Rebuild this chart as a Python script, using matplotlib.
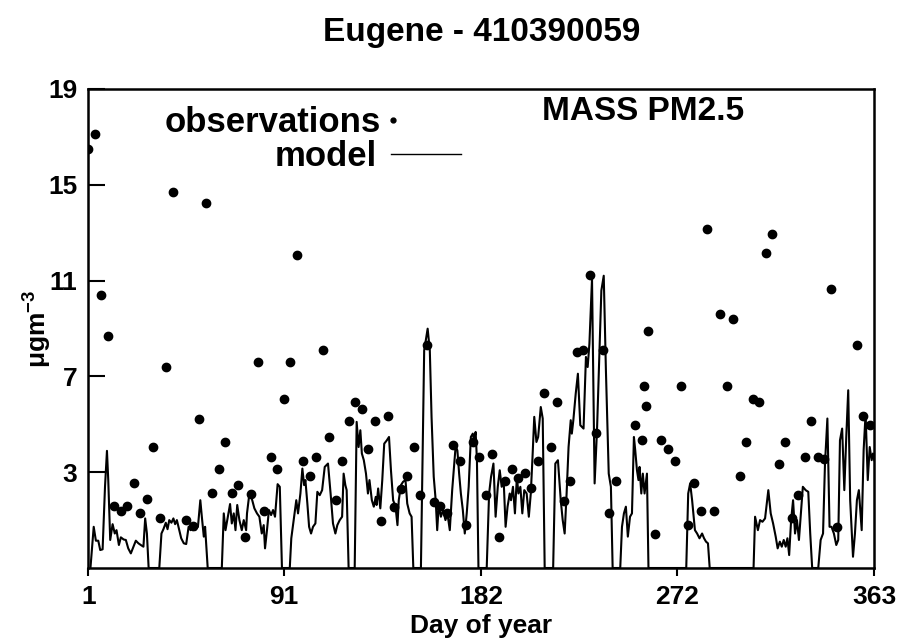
import matplotlib
matplotlib.use("Agg")
import matplotlib.pyplot as plt
from matplotlib.lines import Line2D

plt.rcParams['font.family'] = ['Liberation Sans', 'DejaVu Sans']
plt.rcParams['font.weight'] = 'bold'
plt.rcParams['mathtext.fontset'] = 'custom'
plt.rcParams['mathtext.rm'] = 'Liberation Sans:bold'
plt.rcParams['mathtext.bf'] = 'Liberation Sans:bold'

title = "Eugene - 410390059"
species = "MASS PM2.5"
xticks = [1, 91, 182, 272, 363]
yticks = [3, 7, 11, 15, 19]

# observations (every third day, a few extra days)
obs_day = [1, 4, 7, 10, 13, 16, 19, 22, 25, 28, 31, 34, 37, 40, 46, 49, 52, 55, 58, 61,
           64, 67, 70, 73, 76, 79, 82, 85, 88, 91, 94, 97, 100, 103, 106, 109, 112, 115, 118, 121,
           124, 127, 130, 133, 136, 139, 142, 145, 148, 151, 154, 157, 160, 163, 166, 169, 172, 175, 178, 181,
           184, 187, 190, 193, 196, 199, 202, 205, 208, 211, 214, 217, 220, 223, 226, 229, 232, 235, 238, 241,
           244, 253, 256, 257, 258, 259, 262, 265, 268, 271, 274, 277, 280, 283, 286, 289, 292, 295, 298, 301,
           304, 307, 310, 313, 316, 319, 322, 325, 328, 331, 334, 337, 340, 343, 346, 355, 358, 361]
obs_val = [16.5, 17.1, 10.4, 8.7, 1.6, 1.4, 1.6, 2.55, 1.3, 1.9, 4.05, 1.1, 7.4, 14.7, 1.0, 0.75, 5.2, 14.25, 2.15, 3.15,
           4.25, 2.15, 2.45, 0.3, 2.1, 7.6, 1.4, 3.65, 3.15, 6.05, 7.6, 12.05, 3.45, 2.85, 3.65, 8.1, 4.45, 1.85, 3.45, 5.15,
           5.95, 5.65, 3.95, 5.15, 0.95, 5.35, 1.55, 2.3, 2.85, 4.05, 2.05, 8.3, 1.75, 1.6, 1.3, 4.15, 3.45, 0.8, 4.25, 3.65,
           2.05, 3.75, 0.3, 2.65, 3.15, 2.75, 2.95, 2.35, 3.45, 6.3, 4.05, 5.95, 1.8, 2.65, 8.0, 8.1, 11.25, 4.65, 8.1, 1.3,
           2.65, 4.95, 4.35, 6.6, 5.75, 8.9, 0.4, 4.35, 3.95, 3.45, 6.6, 0.8, 2.55, 1.4, 13.15, 1.4, 9.6, 6.6, 9.4, 2.85,
           4.25, 6.05, 5.95, 12.15, 12.95, 3.35, 4.25, 1.1, 2.05, 3.65, 5.15, 3.65, 3.55, 10.65, 0.7, 8.3, 5.35, 4.95]

# model line, read at its vertices; -1 marks the days where it drops to the floor
model_day = [2.0, 3.5, 4.5, 5.6, 6.5, 7.6, 8.7, 9.6, 10.2, 11.1, 12.2, 13.2, 14.0, 15.1, 16.0, 17.3, 18.3, 19.4, 20.6, 21.8,
             22.9, 24.1, 25.2, 26.4, 27.2, 28.0, 28.8,
             33.7, 34.7, 35.6, 36.7, 37.5, 38.3, 39.3, 40.2, 41.0, 41.8, 42.9, 43.8, 45.0, 46.1, 47.2, 48.1, 49.2, 50.3, 51.5,
             52.6, 53.3, 54.2, 54.8, 56.0,
             62.5, 63.4, 64.2, 65.3, 66.3, 67.1, 68.0, 68.8, 69.6, 70.6, 71.7, 72.6, 73.7, 74.1, 75.2, 76.3, 77.5, 78.7, 79.8,
             80.9, 81.8, 82.4, 83.3, 84.2, 85.2, 86.1, 87.0, 88.2, 89.2, 90.2,
             93.8, 94.5, 95.6, 96.8, 97.6, 98.7, 99.6, 100.4, 101.0, 101.9, 102.7, 103.6, 104.5, 105.6, 106.5, 107.6, 108.7,
             109.9, 111.4, 112.6, 113.7, 114.8, 115.7, 116.8, 117.9, 118.6, 119.4, 120.0, 120.9,
             123.7, 124.6, 125.5, 126.3, 127.0, 127.9, 128.9, 129.8, 130.5, 131.6, 132.5, 133.4, 133.8, 134.5, 135.5, 136.4,
             137.3, 138.5, 139.5, 140.4, 141.4, 142.5, 143.4, 144.0, 145.0, 146.0, 147.1, 147.9, 149.0, 149.9, 150.7,
             154.2, 155.7, 157.3, 158.3, 159.1, 160.1, 161.0, 161.7, 162.4, 163.4, 164.4, 165.5, 166.4, 167.5, 168.6, 170.2,
             171.0, 171.8, 172.6, 173.5, 174.4, 175.3, 176.2, 177.2, 178.1, 178.7, 179.4, 180.0, 180.7,
             184.5, 185.6, 186.5, 187.6, 188.6, 189.6, 190.5, 191.4, 192.3, 193.2, 194.1, 195.1, 195.7, 196.6, 197.5, 198.4,
             199.1, 200.0, 200.9, 201.8, 202.9, 203.9, 204.8, 205.6, 206.4, 207.4, 208.2, 209.4, 210.3, 211.2,
             215.1, 216.1, 217.3, 218.6, 219.5, 220.4, 221.3, 222.2, 223.2, 223.7, 224.4, 225.5, 226.5, 227.6, 229.1, 230.2,
             231.0, 231.8, 233.0, 234.2, 235.3, 236.4, 237.3, 238.4, 239.4, 240.7, 241.7, 242.5,
             246.0, 246.8, 247.7, 248.6, 249.5, 250.5, 251.4, 252.3, 252.9, 253.7, 254.4, 254.9, 255.7, 256.4, 257.2, 258.3,
             259.0,
             276.4, 277.3, 278.2, 279.1, 280.4, 281.4, 282.5, 283.7, 284.6, 285.5, 286.4, 287.2,
             307.4, 308.1, 309.4, 310.4, 311.5, 312.7, 314.2, 315.3, 316.4, 317.6, 318.5, 319.5, 320.4, 321.3, 322.2, 323.0,
             323.8, 324.7, 325.6, 326.5, 327.4, 328.3, 329.2, 330.1, 331.4, 332.6, 333.5, 334.4,
             337.2, 338.3, 339.4, 340.3, 341.4, 342.4, 343.3, 344.4, 345.5, 346.4, 347.2, 348.2, 349.2, 350.1, 351.0, 351.9,
             353.2, 354.1, 355.0, 355.9, 357.2, 358.1, 359.0, 360.0, 360.9, 361.8, 362.4, 363.0]
model_val = [-1, 0.72, 0.14, 0.14, -0.25, -0.22, 2.39, 3.89, 2.67, 0.17, 0.83, 0.44, 0.58, -0.04, 0.28, 0.19, 0.17, -0.18, -0.39, -0.11,
             0.14, 0.03, -0.04, -0.11, 1.07, 0.44, -1,
             -1, 0.44, 0.62, 0.89, 0.62, 1.0, 0.89, 1.07, 0.83, 1.0, 0.58, 0.24, 0.03, 0.0, 0.72, 0.58, 0.83, 0.58, 0.72,
             1.83, 1.14, 0.31, 0.72, -1,
             -1, 1.28, 0.58, 1.14, 1.67, 0.86, 1.28, 0.58, 1.63, 1.0, 0.58, 1.0, 0.58, 1.28, 2.11, 1.9, 1.49, 1.28, 1.14,
             0.44, 0.79, -0.18, 0.58, 1.42, 1.21, 1.42, 1.14, 2.5, 2.39, -1,
             -1, 0.24, 1.0, 1.83, 1.28, 2.11, 3.15, 2.46, 2.67, 1.69, 0.72, 0.44, 0.72, 0.86, 2.18, 2.04, 2.25,
             3.22, 3.36, 2.11, 0.86, 0.44, 0.79, 1.0, 1.14, 2.94, 2.46, 2.25, -1,
             -1, 5.1, 4.05, 4.75, 3.78, 3.5, 2.94, 2.11, 2.67, 1.83, 1.56, 1.97, 1.63, 2.32, 1.49, 2.67,
             4.19, 4.33, 4.47, 3.08, 1.83, 1.56, 0.79, 1.83, 2.46, 2.6, 2.67, 1.69, 1.28, 1.14, -1,
             -1, 8.08, 8.99, 8.08, 5.3, 2.81, 1.83, 0.58, 1.63, 1.14, 1.42, 1.0, 1.28, 0.58, 2.25, 4.1,
             3.9, 2.94, 2.11, 1.42, 0.44, 1.28, 2.39, 4.47, 4.61, 4.33, 4.68, 3.5, -1,
             -1, 2.11, 2.81, 3.36, 1.14, 2.39, 3.08, 2.39, 2.67, 0.72, 1.56, 2.11, 1.83, 2.39, 1.28, 2.81,
             2.11, 2.39, 1.28, 2.25, 2.11, 1.14, 2.11, 3.64, 5.31, 4.26, 4.47, 5.72, 5.24, -1,
             -1, 3.36, 3.5, 1.83, 1.0, 0.44, 2.11, 4.05, 5.17, 4.61, 5.17, 6.28, 7.11, 4.96, 4.82, 7.81,
             7.39, 8.36, 11.07, 2.53, 4.75, 7.94, 10.58, 11.2, 7.25, 2.94, 2.39, -1,
             -1, 0.72, 1.28, 1.56, 0.31, 1.14, 1.28, 4.47, 3.92, 3.08, 2.67, 3.22, 2.11, 2.94, 2.11, 2.94,
             -1,
             -1, 2.11, 2.53, 1.83, 0.58, 0.44, 0.24, 0.44, 0.24, 0.1, 0.03, -1,
             -1, 1.14, 0.58, 1.0, 0.93, 1.07, 2.25, 1.28, 0.86, 0.31, -0.18, 0.1, -0.11, 0.17, -0.11, 0.24,
             -0.46, 1.0, 1.83, 0.44, 1.0, 0.17, 1.28, 2.39, 2.25, 2.18, 0.44, -1,
             -1, 0.17, 0.44, 3.36, 5.24, 0.72, 0.72, 0.44, -0.04, 0.17, 4.33, 4.82, 2.25, 4.47, 6.42, 1.83,
             -0.53, 0.44, 1.83, 2.25, 0.58, 3.92, 5.44, 2.67, 4.05, 3.5, 3.78, 3.5]

fig = plt.figure(figsize=(8.99, 6.44), dpi=100)
ax = fig.add_axes([0.0982, 0.118, 0.8743, 0.744])

ax.plot(model_day, model_val, color='black', linewidth=1.5)
ax.plot(obs_day, obs_val, linestyle='none', marker='o', color='black', markersize=6)

ax.set_xlim(1, 363)
ax.set_ylim(-1, 19)
ax.set_xticks(xticks)
ax.set_yticks(yticks)
ax.tick_params(axis='y', direction='in', length=12, width=1.5, labelsize=19, pad=8)
ax.tick_params(axis='x', direction='out', length=6, width=1.5, labelsize=19, pad=6)
for s in ax.spines.values():
    s.set_linewidth(1.8)

ax.set_xlabel("Day of year", fontsize=19, fontweight='bold', labelpad=4)
ax.set_ylabel("μgm$^{\\mathbf{-3}}$", fontsize=19, fontweight='bold', labelpad=-4)
fig.text(0.536, 0.949, title, ha='center', va='center', fontsize=24, fontweight='bold')
ax.text(0.706, 0.952, species, transform=ax.transAxes, ha='center', va='center',
        fontsize=24, fontweight='bold')

h_obs = Line2D([], [], linestyle='none', marker='o', color='black', markersize=3.5)
h_mod = Line2D([], [], color='black', linewidth=1.0)
leg1 = ax.legend([h_obs], ["observations"], loc='center left', bbox_to_anchor=(0.0976, 0.929),
                 markerfirst=False, frameon=False, handlelength=0.5, handletextpad=0.1,
                 borderpad=0, borderaxespad=0, prop={'size': 25, 'weight': 'bold'})
ax.add_artist(leg1)
ax.legend([h_mod], ["model"], loc='center left', bbox_to_anchor=(0.2375, 0.858),
          markerfirst=False, frameon=False, handlelength=2.0, handletextpad=0.4,
          borderpad=0, borderaxespad=0, prop={'size': 25, 'weight': 'bold'})

fig.savefig("out.png", dpi=100)
